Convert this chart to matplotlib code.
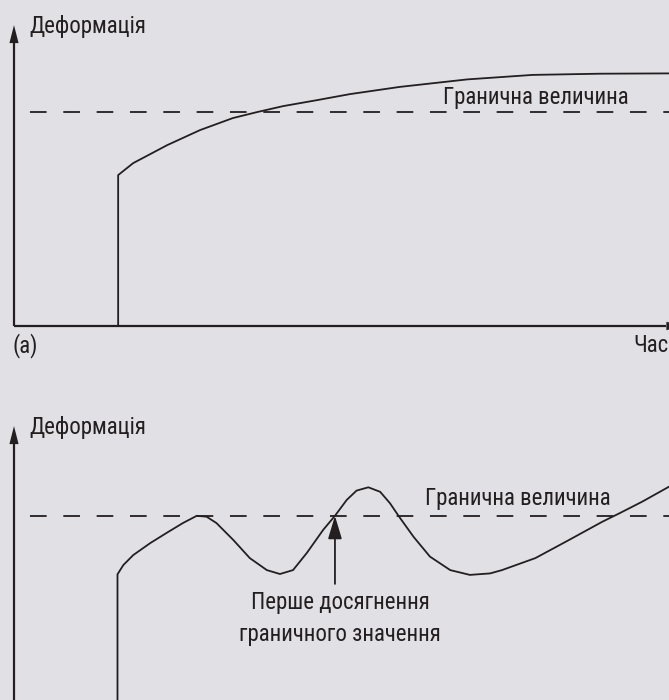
import matplotlib
matplotlib.use("Agg")
import matplotlib.pyplot as plt

plt.rcParams["font.family"] = ["Roboto Condensed", "DejaVu Sans"]
plt.rcParams["lines.scale_dashes"] = False

BG = "#e1e0e5"
INK = "#231f20"
FS = 16.5

# (a) deformation rises once past the limit and stays there
t_a = [15.9, 15.9, 18.2, 23.4, 28.4, 33.4, 37.1, 41.1, 46.3, 51.3, 58.9,
       69.2, 79.2, 89.5, 100.0]
d_a = [0.0, 50.3, 54.3, 60.3, 65.3, 69.3, 71.3, 73.3, 75.3, 77.3, 79.7,
       82.2, 83.7, 84.1, 84.2]
limit_a = 71.3

# (b) deformation oscillates around the limit
t_b = [15.8, 15.8, 16.7, 18.2, 20.8, 23.3, 25.8, 27.9, 29.4, 30.9, 33.5,
       36.0, 38.6, 40.6, 42.6, 44.7, 47.2, 49.0, 50.8, 52.3, 54.1, 55.9,
       57.4, 58.7, 61.0, 63.5, 66.6, 69.6, 72.7, 74.5, 79.6, 84.7, 89.8,
       92.4, 95.9, 100.0]
d_b = [0.0, 50.9, 54.0, 57.3, 61.3, 64.7, 68.0, 70.4, 70.1, 68.0, 62.3,
       56.3, 52.3, 51.0, 52.3, 58.0, 65.7, 70.4, 75.7, 78.8, 79.9, 78.4,
       74.6, 70.4, 63.4, 56.8, 52.3, 50.7, 51.2, 52.3, 56.3, 62.3, 68.4,
       71.2, 75.1, 80.1]
limit_b = 70.4
first_hit = 49.0

y_label = "Деформація"
x_label = "Час"
limit_label = "Гранична величина"
hit_label = ["Перше досягнення", "граничного значення"]

W, H = 669, 700
fig = plt.figure(figsize=(W / 100, H / 100), dpi=100, facecolor=BG)


def panel(bottom_px, t, d, limit):
    ax = fig.add_axes([14 / W, (H - bottom_px) / H, 655 / W, 300 / H])
    ax.set_xlim(0, 100)
    ax.set_ylim(0, 100)
    ax.axis("off")

    # axes with arrow heads
    ax.plot([0, 0], [0, 94.3], color=INK, lw=1.6, clip_on=False,
            solid_capstyle="butt")
    ax.arrow(0, 94.3, 0, 6.0, width=0, head_width=1.4, head_length=6.0,
             length_includes_head=True, fc=INK, ec=INK, lw=0, clip_on=False)
    ax.plot([0, 99.6], [0, 0], color=INK, lw=1.6, clip_on=False,
            solid_capstyle="butt")
    ax.arrow(99.6, 0, 2.75, 0, width=0, head_width=2.8, head_length=2.75,
             length_includes_head=True, fc=INK, ec=INK, lw=0, clip_on=False)

    ax.axhline(limit, color=INK, lw=1.3, linestyle=(12.5, (12, 12)),
               clip_on=False)
    ax.plot(t, d, color=INK, lw=1.3, clip_on=False, solid_joinstyle="round")

    ax.text(2.3, 97.7, y_label, fontsize=FS, color=INK, ha="left",
            va="baseline")
    return ax


ax_a = panel(326, t_a, d_a, limit_a)
ax_a.text(65.5, 74, limit_label, fontsize=FS, color=INK, ha="left",
          va="baseline")
ax_a.text(-0.2, -8.7, "(a)", fontsize=FS, color=INK, ha="left",
          va="baseline")
ax_a.text(100, -8.7, x_label, fontsize=FS, color=INK, ha="right",
          va="baseline")

ax_b = panel(727, t_b, d_b, limit_b)
ax_b.text(62.7, 74, limit_label, fontsize=FS, color=INK, ha="left",
          va="baseline")
ax_b.annotate("", xy=(first_hit, limit_b), xytext=(first_hit, 47.7),
              arrowprops=dict(arrowstyle="-|>,head_length=1.0,head_width=0.3",
                              color=INK, lw=1.3, shrinkA=0, shrinkB=0,
                              mutation_scale=14))
ax_b.text(49.8, 39.3, hit_label[0], fontsize=FS, color=INK, ha="center",
          va="baseline")
ax_b.text(49.8, 28.7, hit_label[1], fontsize=FS, color=INK, ha="center",
          va="baseline")

fig.savefig("out.png", dpi=100, facecolor=BG)
